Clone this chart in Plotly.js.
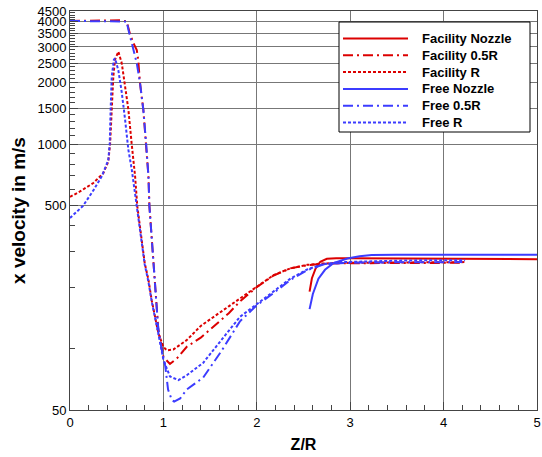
<!DOCTYPE html>
<html>
<head>
<meta charset="utf-8">
<script src="https://cdn.plot.ly/plotly-3.0.1.min.js"></script>
<style>html,body{margin:0;padding:0;background:#fff}#chart{width:542px;height:457px}</style>
</head>
<body>
<div id="chart"></div>
<script>
// ---- Data ----
const seriesNames = ["Facility Nozzle", "Facility 0.5R", "Facility R", "Free Nozzle", "Free 0.5R", "Free R"];

const facNozzleX = [2.565, 2.575, 2.59, 2.63, 2.68, 2.75, 2.85, 3.0, 3.5, 4.0, 4.5, 5.0];
const facNozzleY = [190, 205, 221, 247, 266, 275, 277, 277, 276, 275, 274, 274];

const fac05X = [0, 0.2, 0.4, 0.55, 0.607, 0.64, 0.68, 0.715, 0.73, 0.75, 0.785, 0.815, 0.84, 0.85, 0.875, 0.89, 0.905, 0.92, 0.945, 0.98, 1.0, 1.07, 1.15, 1.25, 1.4, 1.7, 1.82, 2.0, 2.18, 2.36, 2.54, 2.71, 2.89, 3.2, 3.6, 4.0, 4.2];
const fac05Y = [4020, 4040, 4060, 4050, 4000, 3500, 3125, 2900, 2600, 1990, 1480, 1010, 697, 500, 340, 275, 225, 180, 125, 103, 91, 84, 90, 102, 113, 149, 170, 200, 228, 247, 256, 260, 262, 262, 263, 263, 263];

const facRX = [0, 0.107, 0.25, 0.357, 0.41, 0.43, 0.447, 0.464, 0.482, 0.518, 0.554, 0.59, 0.625, 0.66, 0.697, 0.72, 0.77, 0.80, 0.84, 0.875, 0.946, 1.0, 1.036, 1.107, 1.25, 1.4, 1.7, 1.82, 2.0, 2.18, 2.36, 2.54, 2.71, 3.0, 3.5, 4.0, 4.23];
const facRY = [553, 588, 647, 723, 824, 1015, 1481, 2150, 2600, 2845, 2500, 1950, 1481, 1010, 697, 500, 340, 262, 217, 172, 119, 102, 98, 99, 110, 129, 161, 176, 202, 229, 247, 257, 261, 263, 264, 265, 265];

const freeNozzleX = [2.565, 2.6, 2.66, 2.73, 2.82, 2.97, 3.1, 3.23, 3.5, 4.0, 4.5, 5.0];
const freeNozzleY = [156, 185, 220, 243, 262, 276, 283, 287, 288, 288, 288, 288];

const free05X = [0, 0.2, 0.4, 0.55, 0.607, 0.625, 0.66, 0.715, 0.75, 0.785, 0.815, 0.84, 0.85, 0.875, 0.89, 0.905, 0.92, 0.945, 0.98, 1.02, 1.05, 1.09, 1.115, 1.18, 1.25, 1.425, 1.62, 1.82, 2.0, 2.18, 2.36, 2.54, 2.71, 2.89, 3.2, 3.6, 4.0, 4.2];
const free05Y = [4020, 4020, 4020, 4020, 4000, 3650, 3125, 2500, 1990, 1480, 1010, 697, 500, 340, 275, 225, 180, 125, 100, 82, 63, 56, 55, 57, 63, 72, 97, 136, 163, 187, 217, 242, 258, 262, 264, 265, 265, 265];

const freeRX = [0, 0.14, 0.25, 0.34, 0.41, 0.425, 0.435, 0.447, 0.47, 0.482, 0.518, 0.554, 0.59, 0.625, 0.66, 0.69, 0.715, 0.77, 0.80, 0.84, 0.875, 0.946, 1.0, 1.07, 1.16, 1.25, 1.425, 1.62, 1.82, 2.0, 2.18, 2.36, 2.54, 2.71, 2.89, 3.2, 3.6, 4.0, 4.23];
const freeRY = [436, 500, 595, 697, 837, 1000, 1480, 2150, 2600, 2640, 2300, 1800, 1320, 940, 760, 600, 500, 335, 258, 212, 170, 118, 88, 73, 70, 74, 85, 110, 143, 165, 190, 220, 244, 259, 265, 268, 270, 271, 271];

const yTickVals = [50, 500, 1000, 1500, 2000, 2500, 3000, 3500, 4000, 4500];
const yMinorVals = [100, 200, 300, 400, 600, 700, 800, 900, 1100, 1200, 1300, 1400, 1600, 1700, 1800, 1900, 2100, 2200, 2300, 2400, 2600, 2700, 2800, 2900, 3100, 3200, 3300, 3400, 3600, 3700, 3800, 3900, 4100, 4200, 4300, 4400];
const xTickVals = [0, 1, 2, 3, 4, 5];

// ---- Styles ----
const RED = "rgb(220,0,0)";
const BLUE = "rgb(60,60,255)";
const DOT = "3px,2px";
const DASHDOT = "10px,4px,2px,4px";
const styles = [
  {color: RED, dash: "solid"},
  {color: RED, dash: DASHDOT},
  {color: RED, dash: DOT},
  {color: BLUE, dash: "solid"},
  {color: BLUE, dash: DASHDOT},
  {color: BLUE, dash: DOT}
];
const xs = [facNozzleX, fac05X, facRX, freeNozzleX, free05X, freeRX];
const ys = [facNozzleY, fac05Y, facRY, freeNozzleY, free05Y, freeRY];

const traces = seriesNames.map((n, i) => ({
  type: "scatter", mode: "lines", name: n, x: xs[i], y: ys[i],
  line: {color: styles[i].color, dash: styles[i].dash, width: 2},
  showlegend: false, hoverinfo: "x+y+name"
}));

// ---- Layout ----
const W = 542, H = 457;
const M = {l: 70, r: 5, t: 11, b: 47};
const PW = W - M.l - M.r, PH = H - M.t - M.b;
const px2x = p => (p - M.l) / PW;
const px2y = p => (H - M.b - p) / PH;

const FONT = "Liberation Sans, Arial, Helvetica, sans-serif";

// custom legend box (Tecplot style: long line samples)
const leg = {x0: 339, x1: 530, y0: 22, y1: 132, lineX0: 343, lineX1: 408, textX: 420, row0: 38.5, rowStep: 16.8};
const shapes = [{
  type: "rect", xref: "paper", yref: "paper",
  x0: px2x(leg.x0), x1: px2x(leg.x1), y0: px2y(leg.y1), y1: px2y(leg.y0),
  line: {color: "#000", width: 1}, fillcolor: "#fff", layer: "above"
}];
const annotations = [];
seriesNames.forEach((n, i) => {
  const yy = px2y(leg.row0 + i * leg.rowStep);
  shapes.push({type: "line", xref: "paper", yref: "paper", layer: "above",
    x0: px2x(leg.lineX0), x1: px2x(leg.lineX1), y0: yy, y1: yy,
    line: {color: styles[i].color, dash: styles[i].dash, width: 2}});
  annotations.push({xref: "paper", yref: "paper", x: px2x(leg.textX), y: yy,
    xanchor: "left", yanchor: "middle", showarrow: false, text: "<b>" + n + "</b>",
    font: {family: FONT, size: 13, color: "#000"}});
});

const layout = {
  width: W, height: H,
  margin: M,
  paper_bgcolor: "#fff", plot_bgcolor: "#fff",
  font: {family: FONT, size: 13, color: "#000"},
  showlegend: false,
  xaxis: {
    range: [0, 5], tickmode: "array", tickvals: xTickVals,
    ticks: "inside", ticklen: 8, tickcolor: "#444", tickwidth: 1,
    showline: true, linecolor: "#444", linewidth: 1, mirror: true,
    showgrid: true, gridcolor: "#777", gridwidth: 1, zeroline: false,
    minor: {dtick: 0.2, ticks: "inside", ticklen: 5, tickcolor: "#444", showgrid: false},
    tickfont: {family: FONT, size: 13},
    title: {text: "<b>Z/R</b>", font: {family: FONT, size: 16}, standoff: 10}
  },
  yaxis: {
    type: "log", range: [Math.log10(50), Math.log10(4500)],
    tickmode: "array", tickvals: yTickVals, ticktext: yTickVals.map(String),
    ticks: "inside", ticklen: 8, tickcolor: "#444", tickwidth: 1,
    showline: true, linecolor: "#444", linewidth: 1, mirror: true,
    showgrid: true, gridcolor: "#777", gridwidth: 1, zeroline: false,
    minor: {tickmode: "array", tickvals: yMinorVals, ticks: "inside", ticklen: 5, tickcolor: "#444", showgrid: false},
    tickfont: {family: FONT, size: 13},
    title: {text: "<b>x velocity in m/s</b>", font: {family: FONT, size: 19}, standoff: 6}
  },
  shapes: shapes,
  annotations: annotations
};

Plotly.newPlot("chart", traces, layout, {displayModeBar: false, staticPlot: true});
</script>
</body>
</html>
